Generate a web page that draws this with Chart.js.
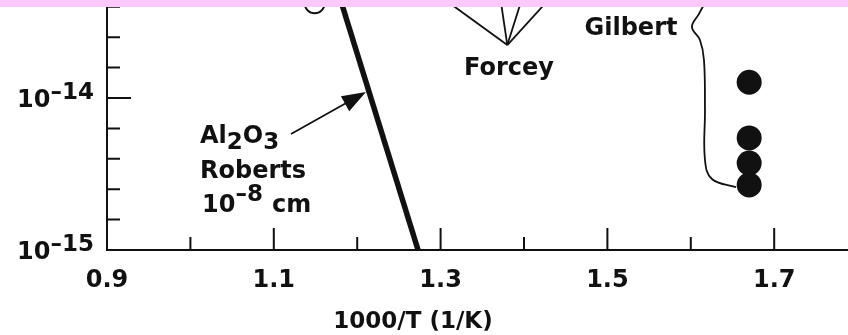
<!DOCTYPE html>
<html>
<head>
<meta charset="utf-8">
<script src="https://cdn.jsdelivr.net/npm/chart.js@4"></script>
<style>
  html, body { margin: 0; padding: 0; background: #fff; }
  #wrap { width: 848px; height: 335px; position: relative; }
</style>
</head>
<body>
<div id="wrap"><canvas id="chart"></canvas></div>
<script>
// axis ticks
const xTicks = [0.9, 1.0, 1.1, 1.2, 1.3, 1.4, 1.5, 1.6, 1.7];
const xLabels = ['0.9', '1.1', '1.3', '1.5', '1.7'];
const yMajorExp = [-15, -14];
const yMinorExp = [-14.8, -14.6, -14.4, -14.2, -13.8, -13.6, -13.4];

// Al2O3, Roberts, 1e-8 cm
const robertsX = [1.177, 1.273];
const robertsY = [5e-14, 1e-15];

// Gilbert (filled dots)
const gilbertX = [1.67, 1.67, 1.67, 1.67];
const gilbertY = [1.27e-14, 5.46e-15, 3.73e-15, 2.68e-15];

// open circle, mostly above the crop
const openX = [1.149];
const openY = [4.2e-14];

// Forcey: four lines meeting in one point
const forceyTipX = [1.306, 1.372, 1.397, 1.429];
const forceyTipY = [4.4e-14, 4.4e-14, 4.4e-14, 4.4e-14];
const forceyJoinX = 1.380;
const forceyJoinY = 2.23e-14;

// brace next to "Gilbert"
const braceX = [1.6206, 1.6098, 1.6014, 1.6110, 1.6158, 1.6170, 1.6170, 1.6254, 1.6542];
const braceLog = [-13.336, -13.447, -13.533, -13.618, -13.750, -14.079, -14.408, -14.533, -14.586];

const ink = '#111';
const FONT = '"DejaVu Sans", sans-serif';

const xyPairs = (xs, ys) => xs.map((v, i) => ({ x: v, y: ys[i] }));

const datasets = [
  {
    data: xyPairs(robertsX, robertsY),
    borderColor: ink, borderWidth: 5.5, pointRadius: 0, tension: 0
  },
  {
    data: xyPairs(gilbertX, gilbertY),
    showLine: false, pointRadius: 12.5, pointBackgroundColor: ink, pointBorderWidth: 0
  },
  {
    data: xyPairs(openX, openY),
    showLine: false, pointRadius: 10, pointBackgroundColor: '#fff',
    pointBorderColor: ink, pointBorderWidth: 2
  },
  {
    data: braceX.map((v, i) => ({ x: v, y: Math.pow(10, braceLog[i]) })),
    borderColor: ink, borderWidth: 1.8, pointRadius: 0, tension: 0.4
  }
];
forceyTipX.forEach((tx, i) => {
  datasets.push({
    data: [{ x: tx, y: forceyTipY[i] }, { x: forceyJoinX, y: forceyJoinY }],
    borderColor: ink, borderWidth: 1.8, pointRadius: 0
  });
});

function label(ctx, s, px, py, size, align) {
  ctx.font = `bold ${size}px ${FONT}`;
  ctx.textAlign = align || 'left';
  ctx.textBaseline = 'alphabetic';
  ctx.fillText(s, px, py);
  return ctx.measureText(s).width;
}

const inkPlugin = {
  id: 'ink',
  afterDraw(chart) {
    const { ctx, chartArea: a, scales: { x, y } } = chart;
    ctx.save();
    ctx.strokeStyle = ink;
    ctx.fillStyle = ink;
    ctx.lineWidth = 2;

    // axis lines
    ctx.beginPath();
    ctx.moveTo(a.left, a.top);
    ctx.lineTo(a.left, a.bottom);
    ctx.lineTo(a.right, a.bottom);
    ctx.stroke();

    // inward ticks
    ctx.beginPath();
    xTicks.forEach(v => {
      const px = x.getPixelForValue(v);
      const len = xLabels.includes(v.toFixed(1)) ? 22 : 13;
      ctx.moveTo(px, a.bottom);
      ctx.lineTo(px, a.bottom - len);
    });
    yMajorExp.concat(yMinorExp).forEach(e => {
      const py = y.getPixelForValue(Math.pow(10, e));
      const len = yMajorExp.includes(e) ? 24 : 13;
      ctx.moveTo(a.left, py);
      ctx.lineTo(a.left + len, py);
    });
    ctx.stroke();

    // y labels 10^-15, 10^-14
    yMajorExp.forEach(e => {
      const py = y.getPixelForValue(Math.pow(10, e));
      ctx.font = `bold 23px ${FONT}`;
      const supW = ctx.measureText('\u2013' + Math.abs(e)).width;
      label(ctx, '\u2013' + Math.abs(e), 94, py + 1, 23, 'right');
      label(ctx, '10', 94 - supW, py + 9, 24, 'right');
    });

    // axis title
    label(ctx, '1000/T (1/K)', 413, 328, 23, 'center');

    // annotations
    let cx = 200;
    cx += label(ctx, 'Al', cx, 143, 24);
    cx += label(ctx, '2', cx, 149, 23);
    cx += label(ctx, 'O', cx, 143, 24);
    label(ctx, '3', cx, 149, 23);
    label(ctx, 'Roberts', 200, 178, 24);
    cx = 202;
    cx += label(ctx, '10', cx, 212, 24);
    cx += label(ctx, '\u20138', cx, 201, 23);
    label(ctx, 'cm', cx + 9, 212, 24);
    label(ctx, 'Forcey', 509, 75, 24, 'center');
    label(ctx, 'Gilbert', 631, 35, 24, 'center');

    // arrow to the Roberts line
    const tail = [291, 134], tip = [366, 92];
    const ang = Math.atan2(tip[1] - tail[1], tip[0] - tail[0]);
    ctx.lineWidth = 1.8;
    ctx.beginPath();
    ctx.moveTo(tail[0], tail[1]);
    ctx.lineTo(tip[0] - 15 * Math.cos(ang), tip[1] - 15 * Math.sin(ang));
    ctx.stroke();
    ctx.beginPath();
    ctx.moveTo(tip[0], tip[1]);
    ctx.lineTo(tip[0] - 24 * Math.cos(ang) + 8.5 * Math.sin(ang), tip[1] - 24 * Math.sin(ang) - 8.5 * Math.cos(ang));
    ctx.lineTo(tip[0] - 24 * Math.cos(ang) - 8.5 * Math.sin(ang), tip[1] - 24 * Math.sin(ang) + 8.5 * Math.cos(ang));
    ctx.closePath();
    ctx.fill();

    // pink band over the top edge
    ctx.fillStyle = 'rgb(253,200,251)';
    ctx.fillRect(0, 0, chart.width, 7);
    ctx.restore();
  }
};

new Chart(document.getElementById('chart'), {
  type: 'line',
  data: { datasets },
  options: {
    responsive: true,
    maintainAspectRatio: false,
    animation: false,
    layout: { padding: 0, autoPadding: false },
    plugins: { legend: { display: false }, tooltip: { enabled: false } },
    scales: {
      x: {
        type: 'linear',
        min: 0.9,
        max: 1.7885,
        grid: { display: false, drawTicks: false },
        border: { display: false },
        afterBuildTicks: s => { s.ticks = xTicks.map(v => ({ value: v })); },
        afterFit: s => { s.height = 85; },
        ticks: {
          autoSkip: false,
          maxRotation: 0,
          padding: 16,
          color: ink,
          font: { family: FONT, weight: 'bold', size: 24 },
          callback: v => (xLabels.includes(Number(v).toFixed(1)) ? Number(v).toFixed(1) : '')
        }
      },
      y: {
        type: 'logarithmic',
        min: 1e-15,
        max: Math.pow(10, -13.35526),
        grid: { display: false, drawTicks: false },
        border: { display: false },
        ticks: { display: false },
        afterFit: s => { s.width = 107; }
      }
    }
  },
  plugins: [inkPlugin]
});
</script>
</body>
</html>
